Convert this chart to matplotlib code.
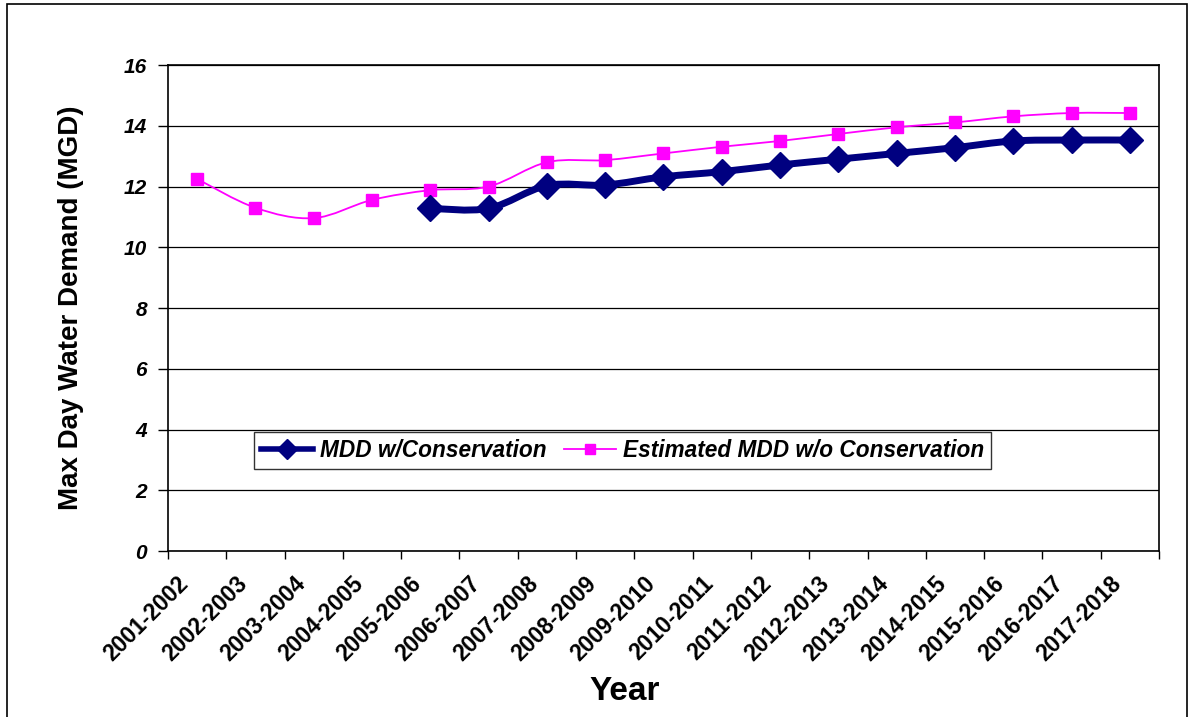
import matplotlib.pyplot as plt
from matplotlib.lines import Line2D
from matplotlib.patches import PathPatch, Rectangle
from matplotlib.path import Path
import matplotlib.transforms as mtransforms
import numpy as np

plt.rcParams['font.family'] = ['Liberation Sans', 'DejaVu Sans']

years = ["2001-2002", "2002-2003", "2003-2004", "2004-2005", "2005-2006",
         "2006-2007", "2007-2008", "2008-2009", "2009-2010", "2010-2011",
         "2011-2012", "2012-2013", "2013-2014", "2014-2015", "2015-2016",
         "2016-2017", "2017-2018"]

# MDD w/Conservation starts at 2005-2006
mdd_start = 4
mdd_cons = [11.28, 11.28, 12.03, 12.05, 12.32, 12.49, 12.71, 12.90,
            13.09, 13.28, 13.50, 13.53, 13.53]
mdd_est = [12.25, 11.30, 10.96, 11.56, 11.88, 12.00, 12.80, 12.87, 13.09,
           13.31, 13.50, 13.73, 13.95, 14.11, 14.31, 14.42, 14.42]

navy = "#000080"
pink = "#FF00FF"


def smooth_path(xs, ys):
    """Excel-style smoothed line: cubic Bezier segments through the points."""
    pts = np.column_stack([xs, ys]).astype(float)
    verts = [pts[0]]
    codes = [Path.MOVETO]
    for i in range(len(pts) - 1):
        p0 = pts[i - 1] if i > 0 else pts[i]
        p1 = pts[i]
        p2 = pts[i + 1]
        p3 = pts[i + 2] if i + 2 < len(pts) else pts[i + 1]
        c1 = p1 + (p2 - p0) / 6.0
        c2 = p2 - (p3 - p1) / 6.0
        verts += [c1, c2, p2]
        codes += [Path.CURVE4] * 3
    return Path(verts, codes)


fig = plt.figure(figsize=(11.88, 7.17), dpi=100)
ax = fig.add_axes([0.1414, 0.2315, 0.8342, 0.6778])

x_all = np.arange(len(years))
x_cons = x_all[mdd_start:]

ax.add_patch(PathPatch(smooth_path(x_all, mdd_est), fill=False,
                       edgecolor=pink, lw=1.3, zorder=3))
ax.plot(x_all, mdd_est, ls="none", marker="s", ms=8, color=pink, zorder=4)

ax.add_patch(PathPatch(smooth_path(x_cons, mdd_cons), fill=False,
                       edgecolor=navy, lw=5, zorder=5, capstyle="round"))
ax.plot(x_cons, mdd_cons, ls="none", marker="D", ms=13, color=navy, zorder=6)

ax.set_xlim(-0.5, len(years) - 0.5)
ax.set_ylim(0, 16)
ax.set_yticks(np.arange(0, 17, 2))
ax.set_yticklabels([str(v) for v in range(0, 17, 2)],
                   fontsize=15, fontweight="bold", fontstyle="italic")
ax.yaxis.grid(True, color="black", lw=0.9)
ax.set_axisbelow(True)

ax.set_xticks(np.arange(-0.5, len(years), 1.0), minor=False)
ax.set_xticklabels([])
ax.set_xticks(x_all, minor=True)
ax.set_xticklabels(years, minor=True, rotation=45, ha="right", va="center",
                   rotation_mode="anchor", fontsize=16.5, fontweight="bold")
ax.tick_params(axis="x", which="minor", length=0, pad=21)
ax.tick_params(axis="x", which="major", length=6, width=1, direction="out")
ax.tick_params(axis="y", length=7, width=1, direction="out", pad=8)

for side in ["top", "right", "left", "bottom"]:
    ax.spines[side].set_color("black")
    ax.spines[side].set_linewidth(1.2)

# move rotated labels so their end sits just left of the category centre
shift = mtransforms.ScaledTranslation(-12 / 100, 0, fig.dpi_scale_trans)
for lbl in ax.get_xticklabels(minor=True):
    lbl.set_transform(lbl.get_transform() + shift)

ax.set_ylabel("Max Day Water Demand (MGD)", fontsize=20, fontweight="bold",
              labelpad=29)
fig.text(0.526, 0.035, "Year", fontsize=24, fontweight="bold",
         ha="center", va="center")

handles = [
    Line2D([], [], color=navy, lw=4, marker="D", ms=10),
    Line2D([], [], color=pink, lw=1.3, marker="s", ms=7),
]
leg = ax.legend(handles, ["MDD w/Conservation", "Estimated MDD w/o Conservation"],
                loc="upper left", bbox_to_anchor=(0.0868, 0.245), ncol=2,
                frameon=True, fancybox=False, borderaxespad=0,
                handlelength=2.3, columnspacing=0.75, handletextpad=0.3,
                borderpad=0.32,
                prop={"size": 16.3, "weight": "bold", "style": "italic"})
leg.get_frame().set_edgecolor("black")
leg.get_frame().set_linewidth(1.0)

fig.patches.append(Rectangle((7 / 1188, -0.01), 1180 / 1188, 1.0 - 4 / 717 + 0.01,
                             transform=fig.transFigure, fill=False,
                             edgecolor="black", lw=1.2))

fig.savefig("out.png", dpi=100)
